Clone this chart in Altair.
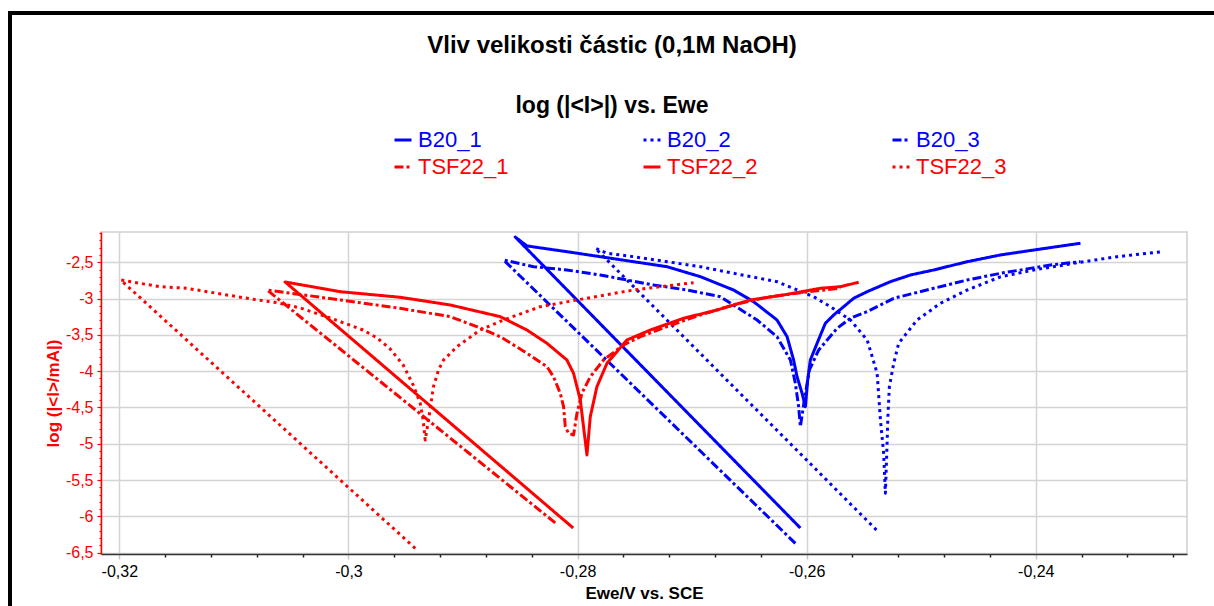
import altair as alt
import pandas as pd

# Tafel scans: potential E (V vs. SCE) and log10(|I| / mA), listed in scan order
b20_1_e = [-0.26055, -0.28544, -0.28442, -0.28093, -0.27802, -0.27511, -0.27219, -0.26928,
           -0.26638, -0.26463, -0.26259, -0.26171, -0.26114, -0.26084, -0.2604, -0.26011,
           -0.25991, -0.25968, -0.25909, -0.25837, -0.25764, -0.25677, -0.2559, -0.25472,
           -0.25269, -0.25094, -0.24891, -0.24599, -0.24308, -0.24017, -0.2361]
b20_1_logi = [-6.16, -2.152, -2.275, -2.354, -2.423, -2.492, -2.561, -2.698,
              -2.882, -3.043, -3.295, -3.525, -3.846, -4.076, -4.304, -4.489,
              -4.121, -3.846, -3.616, -3.34, -3.226, -3.112, -2.996, -2.905,
              -2.767, -2.675, -2.606, -2.492, -2.399, -2.331, -2.238]

b20_2_e = [-0.25391, -0.27845, -0.27743, -0.27511, -0.27219, -0.26928, -0.26638, -0.26259,
           -0.25939, -0.25793, -0.25618, -0.25472, -0.25385, -0.25356, -0.25328, -0.25313,
           -0.253, -0.25291, -0.25278, -0.2524, -0.25197, -0.25036, -0.24832, -0.24599,
           -0.24308, -0.24017, -0.23581, -0.23289, -0.22896]
b20_2_logi = [-6.187, -2.307, -2.376, -2.423, -2.492, -2.561, -2.652, -2.767,
              -2.974, -3.112, -3.295, -3.57, -4.029, -4.672, -5.131, -5.682,
              -5.085, -4.627, -4.213, -3.891, -3.616, -3.295, -3.065, -2.882,
              -2.70, -2.606, -2.492, -2.423, -2.354]

b20_3_e = [-0.26099, -0.28646, -0.28384, -0.28093, -0.27802, -0.27336, -0.27045, -0.26754,
           -0.26433, -0.26259, -0.26142, -0.26099, -0.2607, -0.26055, -0.2602, -0.25976,
           -0.25895, -0.25734, -0.25618, -0.25472, -0.2524, -0.24891, -0.24599, -0.24308,
           -0.23872, -0.2361]
b20_3_logi = [-6.371, -2.468, -2.561, -2.606, -2.675, -2.813, -2.882, -2.974,
              -3.295, -3.525, -3.846, -4.167, -4.489, -4.764, -4.397, -3.983,
              -3.708, -3.409, -3.271, -3.18, -2.996, -2.858, -2.744, -2.652,
              -2.537, -2.492]

tsf22_1_e = [-0.28195, -0.3071, -0.30072, -0.29548, -0.29112, -0.28879, -0.28675, -0.28442,
             -0.28267, -0.2821, -0.28151, -0.28122, -0.28107, -0.28079, -0.28035, -0.28005,
             -0.27962, -0.27889, -0.27773, -0.27598, -0.27452, -0.27219, -0.26928, -0.26638,
             -0.26346, -0.26055, -0.25706]
tsf22_1_logi = [-6.09, -2.882, -3.019, -3.134, -3.249, -3.387, -3.525, -3.753,
                -3.938, -4.076, -4.304, -4.489, -4.764, -4.855, -4.879, -4.58,
                -4.304, -4.076, -3.846, -3.639, -3.525, -3.387, -3.226, -3.088,
                -2.982, -2.919, -2.858]

tsf22_2_e = [-0.28038, -0.30553, -0.30072, -0.29548, -0.29112, -0.28675, -0.28442, -0.28267,
             -0.28093, -0.28035, -0.27976, -0.27948, -0.27918, -0.27889, -0.27831, -0.27743,
             -0.27569, -0.27365, -0.27074, -0.26783, -0.26492, -0.26201, -0.2588, -0.25706,
             -0.25546]
tsf22_2_logi = [-6.16, -2.771, -2.905, -2.982, -3.088, -3.249, -3.433, -3.616,
                -3.846, -4.029, -4.397, -4.764, -5.154, -4.627, -4.213, -3.891,
                -3.57, -3.433, -3.271, -3.157, -3.019, -2.95, -2.858, -2.836,
                -2.775]

tsf22_3_e = [-0.29417, -0.31988, -0.31645, -0.31411, -0.31062, -0.3083, -0.30625, -0.30422,
             -0.30134, -0.29872, -0.29749, -0.29636, -0.29522, -0.29435, -0.29374, -0.29348,
             -0.2933, -0.29301, -0.29258, -0.29214, -0.2917, -0.29053, -0.2885, -0.28646,
             -0.28326, -0.28005, -0.27511, -0.26987]
tsf22_3_logi = [-6.44, -2.744, -2.836, -2.858, -2.95, -3.01, -3.056, -3.129,
                -3.281, -3.433, -3.543, -3.694, -3.915, -4.19, -4.438, -4.672,
                -4.948, -4.672, -4.213, -3.983, -3.846, -3.663, -3.433, -3.295,
                -3.112, -3.019, -2.882, -2.781]

series_names = ["B20_1", "B20_2", "B20_3", "TSF22_1", "TSF22_2", "TSF22_3"]
series_colors = ["#0000ff", "#0000ff", "#0000ff", "#ff0000", "#ff0000", "#ff0000"]
series_dashes = [[1, 0], [3, 4], [9, 3, 3, 3], [9, 3, 3, 3], [1, 0], [3, 4]]

# axis ticks: majors get labels and grid lines, the rest are minor ticks
x_ticks = [round(-0.32 + 0.004 * i, 3) for i in range(24)]
y_ticks = [round(-6.5 + 0.1 * i, 1) for i in range(45)]

scans = [
    (b20_1_e, b20_1_logi), (b20_2_e, b20_2_logi), (b20_3_e, b20_3_logi),
    (tsf22_1_e, tsf22_1_logi), (tsf22_2_e, tsf22_2_logi), (tsf22_3_e, tsf22_3_logi),
]
rows = []
for name, (es, ls) in zip(series_names, scans):
    for i, (e, l) in enumerate(zip(es, ls)):
        rows.append({"series": name, "step": i, "E": e, "logI": l})
df = pd.DataFrame(rows)

FONT = "Liberation Sans"
x_major = "abs(datum.value*50 - round(datum.value*50)) < 1e-6"
y_major = "abs(datum.value*2 - round(datum.value*2)) < 1e-6"

x_axis = alt.Axis(
    title="Ewe/V vs. SCE", values=x_ticks,
    labelExpr=f"{x_major} ? replace(toString(round(datum.value*100)/100), '.', ',') : ''",
    labelOverlap=False, labelFlush=False,
    labelFont=FONT, labelFontSize=16, labelColor="#000000", labelPadding=4,
    tickSize={"condition": {"test": x_major, "value": 5}, "value": 3},
    tickColor={"condition": {"test": x_major, "value": "#c8c8c8"}, "value": "#222222"},
    tickWidth=1.5,
    grid=True, gridColor="#d4d4d4", gridWidth=1.5,
    gridOpacity={"condition": {"test": x_major, "value": 1}, "value": 0},
    domainColor="#333333", domainWidth=1.5,
    titleFont=FONT, titleFontSize=17, titleFontWeight="bold", titleColor="#000000",
    titlePadding=6,
)

y_axis = alt.Axis(
    title="log (|<I>/mA|)", values=y_ticks,
    labelExpr=f"{y_major} ? replace(toString(round(datum.value*10)/10), '.', ',') : ''",
    labelOverlap=False, labelFlush=False,
    labelFont=FONT, labelFontSize=16, labelColor="#ff0000", labelPadding=4,
    tickSize={"condition": {"test": y_major, "value": 4}, "value": 2},
    tickColor="#ff0000", tickWidth=1.2,
    grid=True, gridColor="#d4d4d4", gridWidth=1.5,
    gridOpacity={"condition": {"test": y_major, "value": 1}, "value": 0},
    domainColor="#ff0000", domainWidth=1.5,
    titleFont=FONT, titleFontSize=17, titleFontWeight="bold", titleColor="#ff0000",
    titlePadding=3,
)

legend = alt.Legend(
    title=None, orient="none", legendX=291, legendY=-103,
    direction="horizontal", columns=3, gridAlign="all",
    columnPadding=128, rowPadding=5, padding=0,
    symbolType="stroke", symbolSize=289, symbolStrokeWidth=3,
    labelFont=FONT, labelFontSize=22, labelOffset=4, labelLimit=200,
    labelColor={"expr": "indexof(datum.value, 'B20') == 0 ? '#0000ff' : '#ff0000'"},
)

x_scale = alt.Scale(domain=[-0.3216, -0.2268], nice=False, zero=False)
y_scale = alt.Scale(domain=[-6.518, -2.083], nice=False, zero=False)

lines = alt.Chart(df).mark_line(strokeWidth=3, strokeJoin="round", clip=True).encode(
    x=alt.X("E:Q", scale=x_scale, axis=x_axis),
    y=alt.Y("logI:Q", scale=y_scale, axis=y_axis),
    color=alt.Color("series:N", scale=alt.Scale(domain=series_names, range=series_colors),
                    legend=legend),
    strokeDash=alt.StrokeDash("series:N",
                              scale=alt.Scale(domain=series_names, range=series_dashes),
                              legend=legend),
    order="step:Q",
)

# black window frame along the top and left edges
frame_data = alt.Data(values=[{"edge": 1}])
top_bar = alt.Chart(frame_data).mark_rule(color="#000000", strokeWidth=4).encode(
    x=alt.value(-93), x2=alt.value(1113), y=alt.value(-219), y2=alt.value(-219))
left_bar = alt.Chart(frame_data).mark_rule(color="#000000", strokeWidth=4).encode(
    x=alt.value(-91), x2=alt.value(-91), y=alt.value(-219), y2=alt.value(374))

chart = alt.layer(lines, top_bar, left_bar).properties(
    width=1086, height=322,
    padding={"left": 101, "top": 232, "right": 27, "bottom": 52},
    autosize=alt.AutoSizeParams(type="none"),
    title=alt.TitleParams(
        text="Vliv velikosti částic (0,1M NaOH)",
        subtitle="log (|<I>|) vs. Ewe",
        anchor="middle", frame="group", dx=-32, offset=-107,
        font=FONT, fontSize=24, fontWeight="bold", color="#000000",
        subtitleFont=FONT, subtitleFontSize=23, subtitleFontWeight="bold",
        subtitleColor="#000000", subtitlePadding=37,
    ),
).configure(font=FONT, background="#ffffff").configure_view(stroke="#cfcfcf", strokeWidth=1.5)

chart.save("out.html", embed_options={"renderer": "svg", "actions": False})
